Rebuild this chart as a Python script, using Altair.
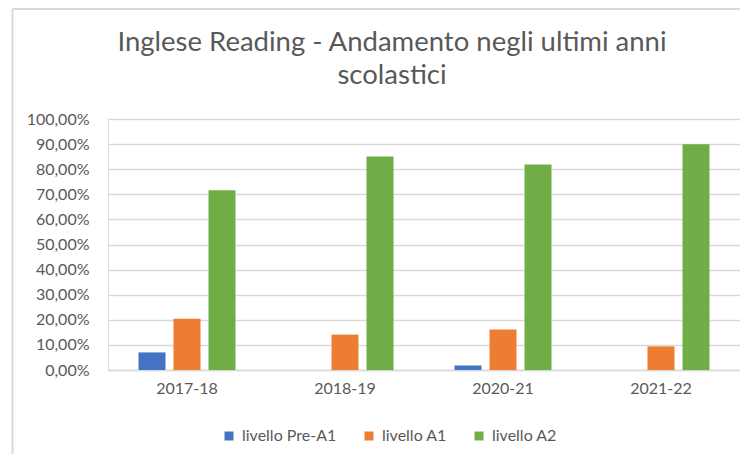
import altair as alt
import pandas as pd

years = ["2017-18", "2018-19", "2020-21", "2021-22"]
levels = ["livello Pre-A1", "livello A1", "livello A2"]
pre_a1 = [0.070, 0.0, 0.018, 0.0]
a1 = [0.204, 0.141, 0.161, 0.094]
a2 = [0.716, 0.851, 0.819, 0.899]
colors = ["#4472C4", "#ED7D31", "#70AD47"]
y_ticks = [0, 0.1, 0.2, 0.3, 0.4, 0.5, 0.6, 0.7, 0.8, 0.9, 1.0]
title_lines = ["Inglese Reading - Andamento negli ultimi anni", "scolastici"]

rows = []
for series, vals in zip(levels, [pre_a1, a1, a2]):
    for yr, v in zip(years, vals):
        rows.append({"anno": yr, "livello": series, "valore": v})
df = pd.DataFrame(rows)

FONT = "Lato"
TXT = "#595959"
GRID = "#D9D9D9"
FS = 16

bars = alt.Chart(df).mark_bar().encode(
    x=alt.X("anno:N", sort=years, title=None,
            scale=alt.Scale(paddingInner=0.386, paddingOuter=0.193),
            axis=alt.Axis(labelAngle=0, labelFontSize=FS, labelColor=TXT, labelFont=FONT,
                          ticks=False, domainColor=GRID, domainWidth=1.5, labelPadding=10)),
    xOffset=alt.XOffset("livello:N", sort=levels,
                        scale=alt.Scale(paddingInner=0.229, paddingOuter=0)),
    y=alt.Y("valore:Q", title=None,
            scale=alt.Scale(domain=[0, 1]),
            axis=alt.Axis(values=y_ticks, labelExpr="replace(format(datum.value, '.2%'), '.', ',')",
                          labelFontSize=FS, labelColor=TXT, labelFont=FONT, ticks=False,
                          domain=False, gridColor=GRID, gridWidth=1.5, labelPadding=19)),
    color=alt.Color("livello:N", sort=levels,
                    scale=alt.Scale(domain=levels, range=colors),
                    legend=alt.Legend(title=None, orient="none", direction="horizontal",
                                      legendX=113, legendY=309, symbolType="square",
                                      symbolSize=81, symbolStrokeWidth=0, labelFontSize=FS,
                                      labelColor=TXT, labelFont=FONT, labelOffset=5,
                                      columnPadding=24)),
)

title_df = pd.DataFrame({"line": title_lines, "n": [0, 1]})
title = alt.Chart(title_df).mark_text(
    font=FONT, fontSize=27.5, color=TXT, align="center", baseline="middle"
).encode(
    text="line:N",
    x=alt.value(284),
    y=alt.Y("n:Q", axis=None, scale=alt.Scale(domain=[0, 1], range=[-76, -43])),
)

border = alt.Chart(alt.Data(values=[{"a": 1}])).mark_rule(color=GRID, strokeWidth=2).encode(
    x=alt.value(-95.5), y=alt.value(-110), y2=alt.value(340)
)
border_top = alt.Chart(alt.Data(values=[{"a": 1}])).mark_rule(color=GRID, strokeWidth=2).encode(
    x=alt.value(-95.5), x2=alt.value(640), y=alt.value(-110)
)

chart = alt.layer(bars, title, border, border_top).resolve_scale(y="independent").properties(
    width=632, height=251,
    autosize=alt.AutoSizeParams(type="none"),
    padding={"left": 100, "top": 111, "right": 0, "bottom": 84},
).configure_view(stroke=None).configure(background="white")

chart.save("out.html", embed_options={"renderer": "svg", "actions": False})
